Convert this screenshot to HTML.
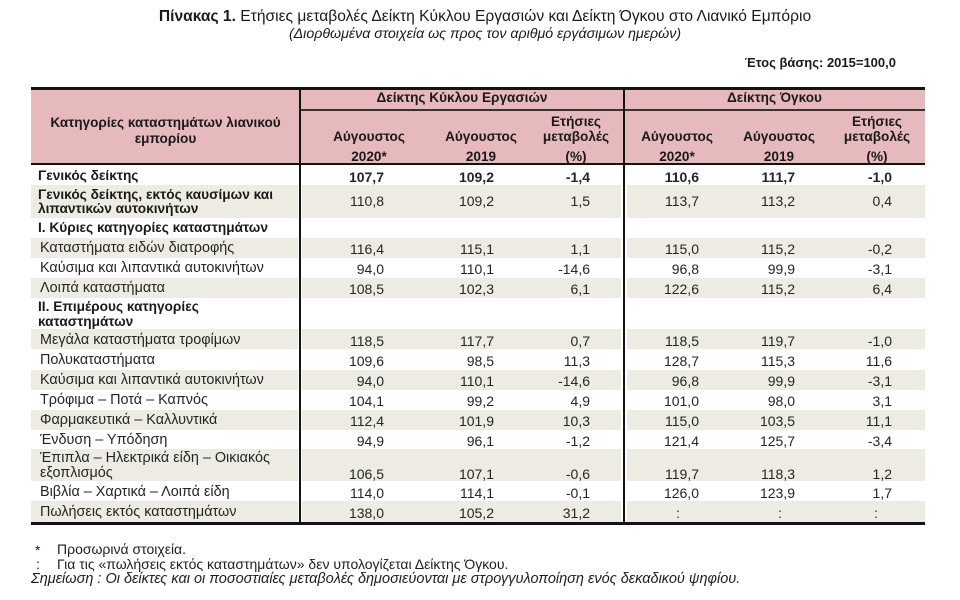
<!DOCTYPE html>
<html>
<head>
<meta charset="utf-8">
<style>
html,body{margin:0;padding:0;background:#fff;}
body{width:960px;height:600px;position:relative;overflow:hidden;font-family:"Liberation Sans","Noto Sans CJK SC",sans-serif;color:#1e1e1e;}
.a{position:absolute;}
.t{position:absolute;line-height:16px;white-space:nowrap;}
.b{font-weight:bold;}
.lab{font-size:14.4px;left:40px;color:#252525;}
.labb{font-size:13.7px;left:38px;font-weight:bold;color:#1a1a1a;}
.num{font-size:14px;text-align:right;color:#252525;}
.hd{font-size:13.6px;font-weight:bold;text-align:center;color:#1a1a1a;}
.sh{position:absolute;background:#eeece2;}
.line{position:absolute;background:#141414;}
</style>
</head>
<body>

<!-- Title -->
<div class="t" style="left:0;width:970px;top:9px;text-align:center;font-size:15.6px;color:#1a1a1a;"><b>Πίνακας 1.</b> Ετήσιες μεταβολές Δείκτη Κύκλου Εργασιών και Δείκτη Όγκου στο Λιανικό Εμπόριο</div>
<div class="t" style="left:0;width:970px;top:26px;text-align:center;font-size:14.2px;font-style:italic;color:#1a1a1a;">(Διορθωμένα στοιχεία ως προς τον αριθμό εργάσιμων ημερών)</div>
<div class="t b" style="right:64px;top:55px;font-size:13px;color:#1a1a1a;">Έτος βάσης: 2015=100,0</div>

<!-- Header background -->
<div class="a" style="left:31px;top:90px;width:894px;height:73px;background:#e6b9bc;"></div>

<!-- Shaded rows -->
<div class="sh" style="left:31px;top:185px;width:267px;height:33px;"></div>
<div class="sh" style="left:302px;top:185px;width:319px;height:33px;"></div>
<div class="sh" style="left:627px;top:185px;width:298px;height:33px;"></div>

<div class="sh" style="left:31px;top:238px;width:267px;height:20px;"></div>
<div class="sh" style="left:302px;top:238px;width:319px;height:20px;"></div>
<div class="sh" style="left:627px;top:238px;width:298px;height:20px;"></div>

<div class="sh" style="left:31px;top:278px;width:267px;height:20px;"></div>
<div class="sh" style="left:302px;top:278px;width:319px;height:20px;"></div>
<div class="sh" style="left:627px;top:278px;width:298px;height:20px;"></div>

<div class="sh" style="left:31px;top:329px;width:267px;height:20px;"></div>
<div class="sh" style="left:302px;top:329px;width:319px;height:20px;"></div>
<div class="sh" style="left:627px;top:329px;width:298px;height:20px;"></div>

<div class="sh" style="left:31px;top:370px;width:267px;height:20px;"></div>
<div class="sh" style="left:302px;top:370px;width:319px;height:20px;"></div>
<div class="sh" style="left:627px;top:370px;width:298px;height:20px;"></div>

<div class="sh" style="left:31px;top:410px;width:267px;height:20px;"></div>
<div class="sh" style="left:302px;top:410px;width:319px;height:20px;"></div>
<div class="sh" style="left:627px;top:410px;width:298px;height:20px;"></div>

<div class="sh" style="left:31px;top:449px;width:267px;height:32px;"></div>
<div class="sh" style="left:302px;top:449px;width:319px;height:32px;"></div>
<div class="sh" style="left:627px;top:449px;width:298px;height:32px;"></div>

<div class="sh" style="left:31px;top:501px;width:267px;height:21px;"></div>
<div class="sh" style="left:302px;top:501px;width:319px;height:21px;"></div>
<div class="sh" style="left:627px;top:501px;width:298px;height:21px;"></div>

<!-- Lines -->
<div class="line" style="left:31px;top:87px;width:894px;height:3px;"></div>
<div class="line" style="left:300px;top:109px;width:625px;height:1.5px;background:#333;"></div>
<div class="line" style="left:31px;top:163px;width:894px;height:2px;"></div>
<div class="line" style="left:31px;top:522px;width:894px;height:2.5px;"></div>
<div class="line" style="left:299px;top:87px;width:2px;height:437px;"></div>
<div class="line" style="left:623px;top:87px;width:2px;height:437px;"></div>

<!-- Header texts -->
<div class="t hd" style="left:31px;width:269px;top:115px;">Κατηγορίες καταστημάτων λιανικού</div>
<div class="t hd" style="left:31px;width:269px;top:131px;">εμπορίου</div>

<div class="t hd" style="left:300px;width:324px;top:90px;">Δείκτης Κύκλου Εργασιών</div>
<div class="t hd" style="left:624px;width:301px;top:90px;">Δείκτης Όγκου</div>

<div class="t hd" style="left:319px;width:100px;top:129px;">Αύγουστος</div>
<div class="t hd" style="left:319px;width:100px;top:149px;">2020*</div>
<div class="t hd" style="left:431px;width:100px;top:129px;">Αύγουστος</div>
<div class="t hd" style="left:431px;width:100px;top:149px;">2019</div>
<div class="t hd" style="left:526px;width:100px;top:114px;">Ετήσιες</div>
<div class="t hd" style="left:526px;width:100px;top:129px;">μεταβολές</div>
<div class="t hd" style="left:526px;width:100px;top:149px;">(%)</div>

<div class="t hd" style="left:627px;width:100px;top:129px;">Αύγουστος</div>
<div class="t hd" style="left:627px;width:100px;top:149px;">2020*</div>
<div class="t hd" style="left:729px;width:100px;top:129px;">Αύγουστος</div>
<div class="t hd" style="left:729px;width:100px;top:149px;">2019</div>
<div class="t hd" style="left:827px;width:100px;top:114px;">Ετήσιες</div>
<div class="t hd" style="left:827px;width:100px;top:129px;">μεταβολές</div>
<div class="t hd" style="left:827px;width:100px;top:149px;">(%)</div>

<!-- Row labels -->
<div class="t labb" style="top:168px;">Γενικός δείκτης</div>
<div class="t labb" style="top:187px;">Γενικός δείκτης, εκτός καυσίμων και</div>
<div class="t labb" style="top:201px;">λιπαντικών αυτοκινήτων</div>
<div class="t labb" style="top:220px;">I. Κύριες κατηγορίες καταστημάτων</div>
<div class="t lab" style="top:240px;">Καταστήματα ειδών διατροφής</div>
<div class="t lab" style="top:260px;">Καύσιμα και λιπαντικά αυτοκινήτων</div>
<div class="t lab" style="top:280px;">Λοιπά καταστήματα</div>
<div class="t labb" style="top:299px;">II. Επιμέρους κατηγορίες</div>
<div class="t labb" style="top:314px;">καταστημάτων</div>
<div class="t lab" style="top:332px;">Μεγάλα καταστήματα τροφίμων</div>
<div class="t lab" style="top:352px;">Πολυκαταστήματα</div>
<div class="t lab" style="top:372px;">Καύσιμα και λιπαντικά αυτοκινήτων</div>
<div class="t lab" style="top:392px;">Τρόφιμα – Ποτά – Καπνός</div>
<div class="t lab" style="top:412px;">Φαρμακευτικά – Καλλυντικά</div>
<div class="t lab" style="top:432px;">Ένδυση – Υπόδηση</div>
<div class="t lab" style="top:450px;">Έπιπλα – Ηλεκτρικά είδη – Οικιακός</div>
<div class="t lab" style="top:465px;">εξοπλισμός</div>
<div class="t lab" style="top:484px;">Βιβλία – Χαρτικά – Λοιπά είδη</div>
<div class="t lab" style="top:504px;">Πωλήσεις εκτός καταστημάτων</div>

<!-- Values -->
<div class="t num b" style="right:576px;top:169px;">107,7</div>
<div class="t num b" style="right:466px;top:169px;">109,2</div>
<div class="t num b" style="right:370px;top:169px;">-1,4</div>
<div class="t num b" style="right:261px;top:169px;">110,6</div>
<div class="t num b" style="right:165px;top:169px;">111,7</div>
<div class="t num b" style="right:68px;top:169px;">-1,0</div>

<div class="t num" style="right:576px;top:193px;">110,8</div>
<div class="t num" style="right:466px;top:193px;">109,2</div>
<div class="t num" style="right:370px;top:193px;">1,5</div>
<div class="t num" style="right:261px;top:193px;">113,7</div>
<div class="t num" style="right:165px;top:193px;">113,2</div>
<div class="t num" style="right:68px;top:193px;">0,4</div>

<div class="t num" style="right:576px;top:241px;">116,4</div>
<div class="t num" style="right:466px;top:241px;">115,1</div>
<div class="t num" style="right:370px;top:241px;">1,1</div>
<div class="t num" style="right:261px;top:241px;">115,0</div>
<div class="t num" style="right:165px;top:241px;">115,2</div>
<div class="t num" style="right:68px;top:241px;">-0,2</div>

<div class="t num" style="right:576px;top:261px;">94,0</div>
<div class="t num" style="right:466px;top:261px;">110,1</div>
<div class="t num" style="right:370px;top:261px;">-14,6</div>
<div class="t num" style="right:261px;top:261px;">96,8</div>
<div class="t num" style="right:165px;top:261px;">99,9</div>
<div class="t num" style="right:68px;top:261px;">-3,1</div>

<div class="t num" style="right:576px;top:281px;">108,5</div>
<div class="t num" style="right:466px;top:281px;">102,3</div>
<div class="t num" style="right:370px;top:281px;">6,1</div>
<div class="t num" style="right:261px;top:281px;">122,6</div>
<div class="t num" style="right:165px;top:281px;">115,2</div>
<div class="t num" style="right:68px;top:281px;">6,4</div>

<div class="t num" style="right:576px;top:333px;">118,5</div>
<div class="t num" style="right:466px;top:333px;">117,7</div>
<div class="t num" style="right:370px;top:333px;">0,7</div>
<div class="t num" style="right:261px;top:333px;">118,5</div>
<div class="t num" style="right:165px;top:333px;">119,7</div>
<div class="t num" style="right:68px;top:333px;">-1,0</div>

<div class="t num" style="right:576px;top:353px;">109,6</div>
<div class="t num" style="right:466px;top:353px;">98,5</div>
<div class="t num" style="right:370px;top:353px;">11,3</div>
<div class="t num" style="right:261px;top:353px;">128,7</div>
<div class="t num" style="right:165px;top:353px;">115,3</div>
<div class="t num" style="right:68px;top:353px;">11,6</div>

<div class="t num" style="right:576px;top:373px;">94,0</div>
<div class="t num" style="right:466px;top:373px;">110,1</div>
<div class="t num" style="right:370px;top:373px;">-14,6</div>
<div class="t num" style="right:261px;top:373px;">96,8</div>
<div class="t num" style="right:165px;top:373px;">99,9</div>
<div class="t num" style="right:68px;top:373px;">-3,1</div>

<div class="t num" style="right:576px;top:393px;">104,1</div>
<div class="t num" style="right:466px;top:393px;">99,2</div>
<div class="t num" style="right:370px;top:393px;">4,9</div>
<div class="t num" style="right:261px;top:393px;">101,0</div>
<div class="t num" style="right:165px;top:393px;">98,0</div>
<div class="t num" style="right:68px;top:393px;">3,1</div>

<div class="t num" style="right:576px;top:413px;">112,4</div>
<div class="t num" style="right:466px;top:413px;">101,9</div>
<div class="t num" style="right:370px;top:413px;">10,3</div>
<div class="t num" style="right:261px;top:413px;">115,0</div>
<div class="t num" style="right:165px;top:413px;">103,5</div>
<div class="t num" style="right:68px;top:413px;">11,1</div>

<div class="t num" style="right:576px;top:433px;">94,9</div>
<div class="t num" style="right:466px;top:433px;">96,1</div>
<div class="t num" style="right:370px;top:433px;">-1,2</div>
<div class="t num" style="right:261px;top:433px;">121,4</div>
<div class="t num" style="right:165px;top:433px;">125,7</div>
<div class="t num" style="right:68px;top:433px;">-3,4</div>

<div class="t num" style="right:576px;top:466px;">106,5</div>
<div class="t num" style="right:466px;top:466px;">107,1</div>
<div class="t num" style="right:370px;top:466px;">-0,6</div>
<div class="t num" style="right:261px;top:466px;">119,7</div>
<div class="t num" style="right:165px;top:466px;">118,3</div>
<div class="t num" style="right:68px;top:466px;">1,2</div>

<div class="t num" style="right:576px;top:485px;">114,0</div>
<div class="t num" style="right:466px;top:485px;">114,1</div>
<div class="t num" style="right:370px;top:485px;">-0,1</div>
<div class="t num" style="right:261px;top:485px;">126,0</div>
<div class="t num" style="right:165px;top:485px;">123,9</div>
<div class="t num" style="right:68px;top:485px;">1,7</div>

<div class="t num" style="right:576px;top:505px;">138,0</div>
<div class="t num" style="right:466px;top:505px;">105,2</div>
<div class="t num" style="right:370px;top:505px;">31,2</div>
<div class="t num" style="left:676px;top:505px;">:</div>
<div class="t num" style="left:778px;top:505px;">:</div>
<div class="t num" style="left:874px;top:505px;">:</div>

<!-- Footer -->
<div class="t" style="left:35px;top:542px;font-size:14px;color:#1e1e1e;">*</div>
<div class="t" style="left:57px;top:541px;font-size:14px;color:#1e1e1e;">Προσωρινά στοιχεία.</div>
<div class="t" style="left:36px;top:556px;font-size:14px;color:#1e1e1e;">:</div>
<div class="t" style="left:57px;top:556px;font-size:14px;color:#1e1e1e;">Για τις «πωλήσεις εκτός καταστημάτων» δεν υπολογίζεται Δείκτης Όγκου.</div>
<div class="t" style="left:31px;top:571px;font-size:14.5px;font-style:italic;color:#1e1e1e;">Σημείωση : Οι δείκτες και οι ποσοστιαίες μεταβολές δημοσιεύονται με στρογγυλοποίηση ενός δεκαδικού ψηφίου.</div>

</body>
</html>
